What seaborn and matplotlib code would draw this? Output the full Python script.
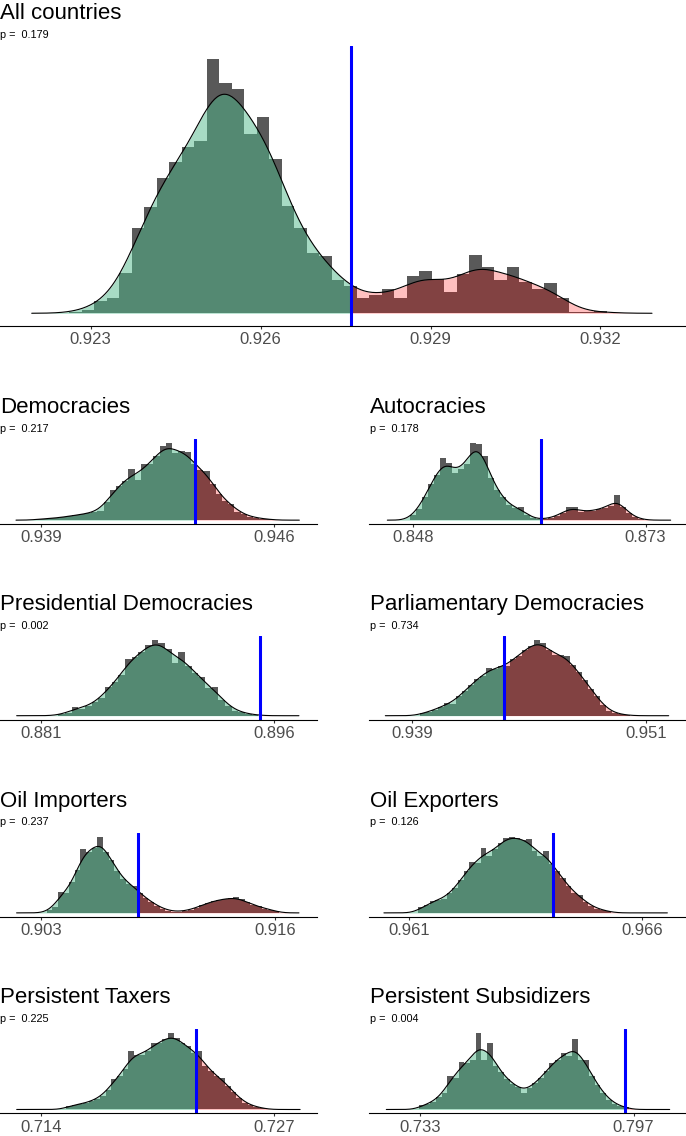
import numpy as np
import pandas as pd
import matplotlib
matplotlib.use("Agg")
import matplotlib.pyplot as plt
import seaborn as sns

sns.set_theme(style="white")
plt.rcParams['font.family'] = ['Liberation Sans', 'DejaVu Sans']

# ---------------- data ----------------
titles = ["All countries", "Democracies", "Autocracies",
          "Presidential Democracies", "Parliamentary Democracies",
          "Oil Importers", "Oil Exporters",
          "Persistent Taxers", "Persistent Subsidizers"]
p_values = ["0.179", "0.217", "0.178", "0.002", "0.734", "0.237", "0.126", "0.225", "0.004"]
observed = [0.927594, 0.94362, 0.86179, 0.89508, 0.94373, 0.90840, 0.96409, 0.72264, 0.79451]

tick_values = [[0.923, 0.926, 0.929, 0.932], [0.939, 0.946], [0.848, 0.873],
               [0.881, 0.896], [0.939, 0.951], [0.903, 0.916], [0.961, 0.966],
               [0.714, 0.727], [0.733, 0.797]]

bin_start = [0.922621, 0.93882, 0.84764, 0.88213, 0.93938, 0.90331, 0.96120, 0.71541, 0.73280]
bin_width = [0.0002206, 0.000187, 0.000645, 0.000428, 0.000308, 0.000314, 0.0001214, 0.000316, 0.001695]

counts_all = [1, 3.5, 12, 15, 40, 85, 106, 136, 152, 167, 173, 255, 231, 225, 180, 197, 155, 107,
              85, 60, 57, 33, 27, 15, 18, 24, 15, 37, 42, 34, 21, 39, 58, 46, 33, 46, 31, 24, 30,
              15, 1, 1, 2.5]
counts_dem = [3, 4, 5, 7, 8, 13, 14, 17, 21, 23, 28, 53, 88, 100, 115, 150, 118, 166, 165, 190,
              221, 228, 200, 205, 203, 165, 148, 146, 108, 78, 56, 48, 25, 17, 10, 7, 4, 3]
counts_aut = [14, 33, 68, 108, 135, 183, 168, 140, 150, 165, 228, 225, 190, 125, 90, 68, 45, 35,
              40, 14, 6, 2, 3, 7, 12, 21, 38, 38, 24, 26, 28, 32, 36, 43, 75, 40, 20, 8, 3]
counts_pres = [4, 9, 25, 21, 30, 40, 53, 85, 100, 121, 170, 175, 190, 212, 228, 218, 200, 158,
               190, 148, 128, 116, 82, 86, 48, 30, 15, 10, 5, 3]
counts_parl = [8, 12, 18, 25, 38, 35, 58, 75, 92, 110, 120, 143, 140, 148, 148, 170, 180, 198,
               208, 228, 218, 198, 182, 182, 180, 152, 130, 108, 80, 58, 33, 14, 8, 4, 2]
counts_oilimp = [8, 18, 63, 58, 91, 128, 191, 181, 195, 228, 183, 158, 125, 102, 86, 80, 58, 45,
                 33, 22, 13, 7, 4, 4, 6, 10, 16, 23, 30, 35, 39, 42, 44, 46, 40, 31, 23, 20, 13,
                 10, 5]
counts_oilexp = [16, 21, 35, 36, 40, 55, 70, 93, 118, 143, 140, 183, 160, 180, 198, 213, 216,
                 212, 206, 210, 175, 160, 176, 138, 118, 98, 75, 55, 50, 30, 20, 12, 8, 5]
counts_tax = [11, 14, 16, 20, 25, 32, 42, 60, 92, 100, 122, 175, 165, 165, 175, 200, 200, 212,
              230, 215, 200, 190, 170, 175, 130, 115, 100, 95, 72, 52, 35, 20, 12, 8, 5]
counts_sub = [12, 17, 22, 38, 50, 100, 95, 142, 140, 148, 230, 150, 200, 130, 112, 92, 78, 68,
              50, 66, 80, 95, 115, 140, 150, 170, 160, 213, 148, 148, 100, 75, 50, 30, 18, 10, 6]
counts = [counts_all, counts_dem, counts_aut, counts_pres, counts_parl,
          counts_oilimp, counts_oilexp, counts_tax, counts_sub]

density_range = [(0.92196, 0.93291), (0.93825, 0.94675), (0.84524, 0.87569),
                 (0.87946, 0.89758), (0.93761, 0.95217), (0.90165, 0.91731),
                 (0.96046, 0.96654), (0.71266, 0.72845), (0.72303, 0.80778)]
x_range = [(0.92140, 0.93351), (0.93777, 0.94728), (0.84327, 0.87734),
           (0.87839, 0.89874), (0.93677, 0.95306), (0.90073, 0.91831),
           (0.96014, 0.96694), (0.71173, 0.72939), (0.71785, 0.81266)]
# kernel bandwidth, in bin widths
kde_bw_bins = [1.4, 1.3, 1.2, 1.3, 1.3, 1.2, 1.3, 1.3, 1.2]

# ---------------- layout (pixels) ----------------
W, H = 686, 1136
# left, top, right, bottom
boxes = [(0, 46, 686, 326),
         (0, 439.3, 317, 524), (369, 439.3, 686, 524),
         (0, 636, 317, 719.5), (369, 636, 686, 719.5),
         (0, 832.7, 317, 916.7), (369, 832.7, 686, 916.7),
         (0, 1029.3, 317, 1113.3), (369, 1029.3, 686, 1113.3)]
title_base = [19, 413, 413, 610, 610, 807, 807, 1003, 1003]
p_base = [38, 432, 432, 629, 629, 825, 825, 1022, 1022]

GRAY = "#595959"
GREEN = "#51B98B"
RED = "#FF0000"
BLUE = "#0000FF"

fig = plt.figure(figsize=(W / 100, H / 100), dpi=100)

for i in range(9):
    l, t, r, b = boxes[i]
    ax = fig.add_axes([l / W, 1 - b / H, (r - l) / W, (b - t) / H])
    c = np.array(counts[i], dtype=float)
    edges = bin_start[i] + bin_width[i] * np.arange(len(c) + 1)
    centers = (edges[:-1] + edges[1:]) / 2
    df = pd.DataFrame({"value": centers, "count": c})

    sns.histplot(data=df, x="value", weights="count", bins=edges.tolist(), stat="density",
                 color=GRAY, alpha=1, linewidth=0, ax=ax)

    mean = np.sum(c * centers) / c.sum()
    sd = np.sqrt(np.sum(c * (centers - mean) ** 2) / c.sum())
    factor = kde_bw_bins[i] * bin_width[i] / sd
    lo, hi = density_range[i]
    v = observed[i]
    kw = dict(data=df, x="value", weights="count", bw_method=factor, cut=30,
              gridsize=500, ax=ax)
    sns.kdeplot(**kw, clip=(lo, v), fill=True, color=GREEN, alpha=0.5, linewidth=0)
    sns.kdeplot(**kw, clip=(v, hi), fill=True, color=RED, alpha=0.25, linewidth=0)
    sns.kdeplot(**kw, clip=(lo, hi), color="black", linewidth=0.8)
    ax.axvline(v, color=BLUE, lw=2.2)

    ax.use_sticky_edges = False
    ax.set_ymargin(0.05)
    ax.relim()
    ax.autoscale_view(scalex=False, scaley=True)
    ax.set_xlim(*x_range[i])

    ax.set_xticks(tick_values[i])
    ax.set_xticklabels([f"{tv:.3f}" for tv in tick_values[i]])
    ax.set_yticks([])
    ax.set_xlabel("")
    ax.set_ylabel("")
    for s in ["left", "top", "right"]:
        ax.spines[s].set_visible(False)
    ax.spines["bottom"].set_color("black")
    ax.spines["bottom"].set_linewidth(0.8)
    ax.tick_params(axis="x", length=2.5, width=0.8, color="#333333",
                   labelsize=12, labelcolor="#4D4D4D", pad=2, bottom=True)
    ax.set_facecolor("none")

    fig.text((l + 0.5) / W, 1 - title_base[i] / H, titles[i], fontsize=16,
             color="black", va="baseline", ha="left")
    fig.text((l + 0.5) / W, 1 - p_base[i] / H, "p =  " + p_values[i], fontsize=7.8,
             color="black", va="baseline", ha="left")

fig.savefig("out.png", dpi=100, facecolor="white")
